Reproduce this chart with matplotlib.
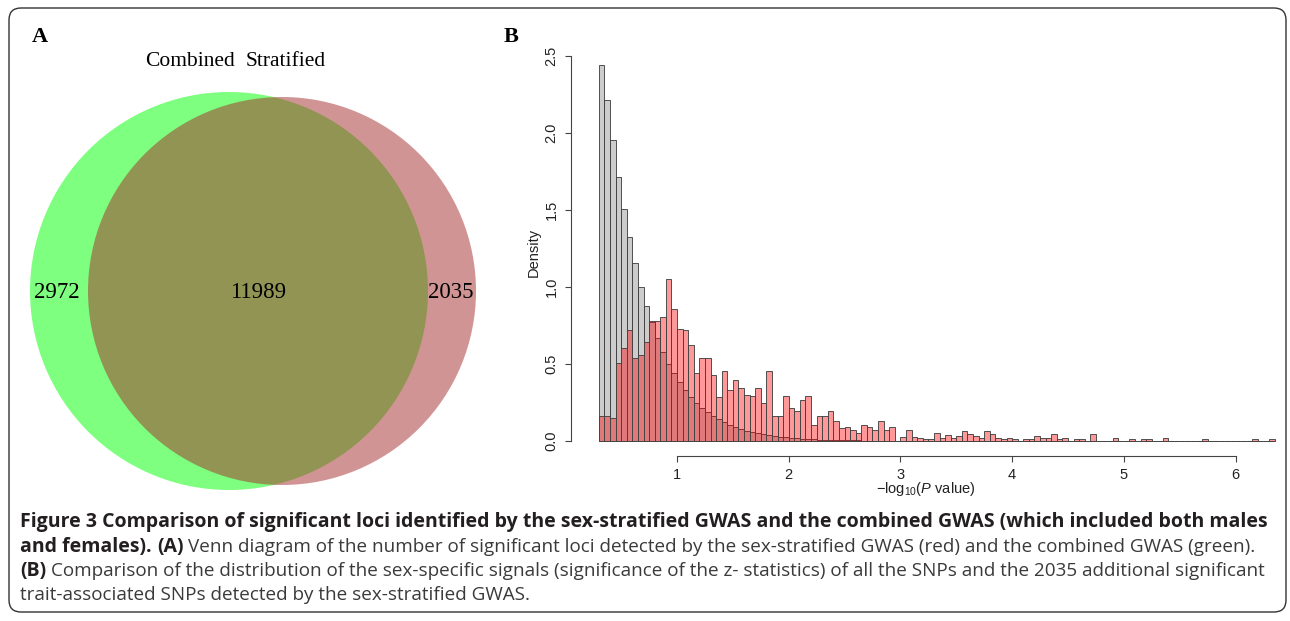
import numpy as np
import matplotlib
matplotlib.use("Agg")
import matplotlib.pyplot as plt
from matplotlib.patches import Circle, FancyBboxPatch
from matplotlib import font_manager

# ---- data ----
# Panel A: Venn diagram
venn_sets = ["Combined", "Stratified"]
venn_counts = [2972, 11989, 2035]   # combined only, both, stratified only

# Panel B: histograms of -log10(P), bins of 0.05 from 0.30
bin_start = 0.30
bin_width = 0.05
all_snps = [2.436, 2.209, 1.952, 1.712, 1.502, 1.321, 1.157, 1.001, 0.875, 0.770,
            0.666, 0.575, 0.499, 0.441, 0.380, 0.333, 0.288, 0.249, 0.216, 0.190,
            0.164, 0.143, 0.124, 0.106, 0.091, 0.078, 0.067, 0.058, 0.050, 0.043,
            0.037, 0.032, 0.027, 0.023, 0.020, 0.017, 0.015, 0.013, 0.011, 0.0095,
            0.008, 0.007, 0.006, 0.005, 0.0045, 0.004, 0.0035, 0.003, 0.0026, 0.0022,
            0.002, 0.0017, 0.0015, 0.0013, 0.0011, 0.001, 0.0008, 0.0007, 0.0006, 0.0005,
            0.0005, 0.0004, 0.0004, 0.0003, 0.0003, 0.0003, 0.0002, 0.0002, 0.0002, 0.0001,
            0.0001, 0.0001, 0.0001, 0.0001, 0.0, 0.0, 0.0, 0.0, 0.0, 0.0,
            0.0, 0.0, 0.0, 0.0, 0.0, 0.0, 0.0, 0.0, 0.0, 0.0,
            0.0, 0.0, 0.0, 0.0, 0.0, 0.0, 0.0, 0.0, 0.0, 0.0,
            0.0, 0.0, 0.0, 0.0, 0.0, 0.0, 0.0, 0.0, 0.0, 0.0,
            0.0, 0.0, 0.0, 0.0, 0.0, 0.0, 0.0, 0.0, 0.0, 0.0,
            0.0]
extra_snps = [0.162, 0.162, 0.147, 0.504, 0.601, 0.718, 0.536, 0.558, 0.642, 0.780,
              0.780, 0.802, 1.048, 0.856, 0.728, 0.718, 0.620, 0.439, 0.536, 0.536,
              0.428, 0.283, 0.452, 0.333, 0.396, 0.342, 0.300, 0.290, 0.344, 0.246,
              0.452, 0.162, 0.162, 0.290, 0.214, 0.192, 0.268, 0.290, 0.106, 0.160,
              0.160, 0.192, 0.128, 0.086, 0.093, 0.072, 0.052, 0.106, 0.093, 0.072,
              0.128, 0.072, 0.093, 0.0, 0.029, 0.072, 0.029, 0.020, 0.010, 0.010,
              0.052, 0.020, 0.039, 0.020, 0.032, 0.065, 0.043, 0.032, 0.020, 0.062,
              0.043, 0.020, 0.010, 0.020, 0.010, 0.0, 0.010, 0.010, 0.032, 0.020,
              0.020, 0.043, 0.010, 0.020, 0.0, 0.010, 0.010, 0.0, 0.043, 0.0,
              0.0, 0.0, 0.020, 0.0, 0.0, 0.010, 0.0, 0.010, 0.010, 0.0,
              0.0, 0.020, 0.0, 0.0, 0.0, 0.0, 0.0, 0.0, 0.010, 0.0,
              0.0, 0.0, 0.0, 0.0, 0.0, 0.0, 0.0, 0.010, 0.0, 0.0,
              0.010]
x_ticks = [1, 2, 3, 4, 5, 6]
y_ticks = [0.0, 0.5, 1.0, 1.5, 2.0, 2.5]
y_tick_labels = ["0.0", "0.5", "1.0", "1.5", "2.0", "2.5"]

caption_lines = [
    [("Figure 3 Comparison of significant loci identified by the sex-stratified GWAS and the combined GWAS (which included both males", "bold")],
    [("and females).", "bold"), ("(A)", "bold"),
     ("Venn diagram of the number of significant loci detected by the sex-stratified GWAS (red) and the combined GWAS (green).", "normal")],
    [("(B)", "bold"),
     ("Comparison of the distribution of the sex-specific signals (significance of the z- statistics) of all the SNPs and the 2035 additional significant", "normal")],
    [("trait-associated SNPs detected by the sex-stratified GWAS.", "normal")],
]

# ---- figure ----
W, H = 1290, 621
fig = plt.figure(figsize=(W / 100, H / 100), dpi=100)
bg = fig.add_axes([0, 0, 1, 1])
bg.set_xlim(0, W)
bg.set_ylim(H, 0)
bg.axis("off")

# rounded frame
bg.add_patch(FancyBboxPatch((9, 8), 1277, 604, boxstyle="round,pad=0,rounding_size=12",
                            fc="white", ec="#333333", lw=1.0))

serif = "Liberation Serif"
bg.text(40, 37, "A", family=serif, fontweight="bold", fontsize=16, ha="center", va="center")
bg.text(511, 37, "B", family=serif, fontweight="bold", fontsize=16, ha="center", va="center")

# Venn
bg.add_patch(Circle((229, 291), 199, fc=(0, 1, 0, 0.5), ec="none"))
bg.add_patch(Circle((282, 291), 194, fc=(165 / 255, 42 / 255, 42 / 255, 0.5), ec="none"))
bg.text(190, 62, venn_sets[0], family=serif, fontsize=15.5, ha="center", va="center")
bg.text(286, 62, venn_sets[1], family=serif, fontsize=15.5, ha="center", va="center")
bg.text(57, 292, str(venn_counts[0]), family=serif, fontsize=16.5, ha="center", va="center")
bg.text(258, 292, str(venn_counts[1]), family=serif, fontsize=16.5, ha="center", va="center")
bg.text(451, 292, str(venn_counts[2]), family=serif, fontsize=16.5, ha="center", va="center")

# Histogram
sans = "Liberation Sans"
plt.rcParams["mathtext.fontset"] = "custom"
plt.rcParams["mathtext.rm"] = sans
plt.rcParams["mathtext.it"] = sans + ":italic"

x0, x1, y0, y1 = 570.9, 1280.2, 47.8, 456.4
ax = fig.add_axes([x0 / W, 1 - y1 / H, (x1 - x0) / W, (y1 - y0) / H])
ax.patch.set_facecolor("none")
left = bin_start + bin_width * np.arange(len(all_snps))
ax.bar(left, all_snps, width=bin_width, align="edge", color=(0, 0, 0, 0.2),
       edgecolor="#454545", lw=0.65)
ax.bar(left, extra_snps, width=bin_width, align="edge", color=(1, 0, 0, 0.4),
       edgecolor="#454545", lw=0.65)
ax.set_xlim(0.05, 6.4)
ax.set_ylim(-0.1, 2.55)

for s in ["top", "right"]:
    ax.spines[s].set_visible(False)
ax.spines["left"].set_bounds(0, 2.5)
ax.spines["bottom"].set_bounds(1, 6)
for s in ["left", "bottom"]:
    ax.spines[s].set_color("#444444")
    ax.spines[s].set_linewidth(0.8)

ax.set_xticks(x_ticks)
ax.set_xticklabels([str(t) for t in x_ticks], family=sans, fontsize=10.5)
ax.set_yticks(y_ticks)
ax.set_yticklabels(y_tick_labels, family=sans, fontsize=10.5, rotation=90, va="center")
ax.tick_params(axis="both", length=4, width=0.8, color="#444444", labelcolor="#222222")
ax.tick_params(axis="x", pad=4)
ax.tick_params(axis="y", pad=5)

ax.set_ylabel("Density", family=sans, fontsize=10.5, color="#222222")
ax.yaxis.set_label_coords((534 - x0) / (x1 - x0), 0.5)
ax.yaxis.label.set_va("center")
ax.set_xlabel(r"$-\mathrm{log}_{10}(P\ \mathrm{value})$", fontsize=10.5, color="#222222")
ax.xaxis.set_label_coords(0.5, -(489 - y1) / (y1 - y0))
ax.xaxis.label.set_va("center")

# Caption
names = {f.name for f in font_manager.fontManager.ttflist}
cap_font = "Open Sans" if "Open Sans" in names else "DejaVu Sans"

fig.canvas.draw()
renderer = fig.canvas.get_renderer()


def text_width(s, weight, size):
    t = bg.text(0, 0, s, family=cap_font, fontweight=weight, fontsize=size)
    w = t.get_window_extent(renderer=renderer).width
    t.remove()
    return w


def space_width(weight, size):
    return text_width("a a", weight, size) - text_width("aa", weight, size)


# bold size fitted to the first line, regular size fitted to the third line
bold_size = 10 * (1268 - 20) / text_width(caption_lines[0][0][0], "bold", 10)
b_lead = text_width("(B)", "bold", bold_size) + space_width("bold", bold_size)
reg_size = 10 * (1263 - 20 - b_lead) / text_width(caption_lines[2][1][0], "normal", 10)
sizes = {"bold": bold_size, "normal": reg_size}

baselines = [527, 552, 576, 600]
for parts, yb in zip(caption_lines, baselines):
    x = 20
    for s, wgt in parts:
        t = bg.text(x, yb, s, family=cap_font, fontweight=wgt, fontsize=sizes[wgt],
                    color="#231f20" if wgt == "bold" else "#3a3a3a", va="baseline")
        x += t.get_window_extent(renderer=renderer).width + space_width(wgt, sizes[wgt])

fig.savefig("out.png", dpi=100)
